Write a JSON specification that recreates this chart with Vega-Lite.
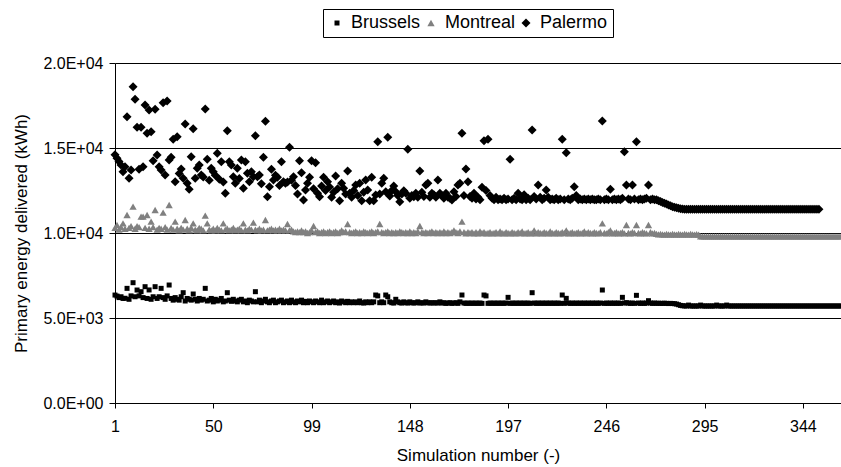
{
"$schema": "https://vega.github.io/schema/vega-lite/v6.json",
"width": 726,
"height": 340,
"autosize": {"type": "none"},
"padding": {"left": 115, "top": 63, "right": 0, "bottom": 64},
"background": "white",
"datasets": {
"bru": [{"n":1,"v":6350},{"n":2,"v":6290},{"n":3,"v":6200},{"n":4,"v":6250},{"n":5,"v":6150},{"n":6,"v":6160},{"n":7,"v":6744},{"n":8,"v":6100},{"n":9,"v":6300},{"n":10,"v":7077},
{"n":11,"v":6250},{"n":12,"v":6646},{"n":13,"v":6300},{"n":14,"v":6548},{"n":15,"v":6200},{"n":16,"v":6842},{"n":17,"v":6150},{"n":18,"v":6650},{"n":19,"v":6100},{"n":20,"v":6250},
{"n":21,"v":6842},{"n":22,"v":6150},{"n":23,"v":6250},{"n":24,"v":6744},{"n":25,"v":6200},{"n":26,"v":6100},{"n":27,"v":6300},{"n":28,"v":6940},{"n":29,"v":6150},{"n":30,"v":6050},
{"n":31,"v":6200},{"n":32,"v":6100},{"n":33,"v":6050},{"n":34,"v":6250},{"n":35,"v":6489},{"n":36,"v":6000},{"n":37,"v":6150},{"n":38,"v":6100},{"n":39,"v":6050},{"n":40,"v":6411},
{"n":41,"v":6100},{"n":42,"v":6000},{"n":43,"v":6150},{"n":44,"v":6050},{"n":45,"v":6100},{"n":46,"v":6744},{"n":47,"v":6000},{"n":48,"v":6050},{"n":49,"v":6150},{"n":50,"v":5950},
{"n":51,"v":6100},{"n":52,"v":6000},{"n":53,"v":6050},{"n":54,"v":6150},{"n":55,"v":5950},{"n":56,"v":6000},{"n":57,"v":6489},{"n":58,"v":6050},{"n":59,"v":5980},{"n":60,"v":6100},
{"n":61,"v":6000},{"n":62,"v":5950},{"n":63,"v":6050},{"n":64,"v":6100},{"n":65,"v":5950},{"n":66,"v":6000},{"n":67,"v":5900},{"n":68,"v":6050},{"n":69,"v":6000},{"n":70,"v":5950},
{"n":71,"v":6548},{"n":72,"v":5950},{"n":73,"v":6050},{"n":74,"v":5900},{"n":75,"v":6000},{"n":76,"v":6100},{"n":77,"v":5950},{"n":78,"v":5900},{"n":79,"v":6000},{"n":80,"v":6050},
{"n":81,"v":5900},{"n":82,"v":5950},{"n":83,"v":6000},{"n":84,"v":6050},{"n":85,"v":5900},{"n":86,"v":5950},{"n":87,"v":6000},{"n":88,"v":5900},{"n":89,"v":6050},{"n":90,"v":5950},
{"n":91,"v":5900},{"n":92,"v":6000},{"n":93,"v":5950},{"n":94,"v":6050},{"n":95,"v":5900},{"n":96,"v":5980},{"n":97,"v":5900},{"n":98,"v":6000},{"n":99,"v":5950},{"n":100,"v":5900},
{"n":101,"v":6000},{"n":102,"v":5950},{"n":103,"v":5900},{"n":104,"v":6050},{"n":105,"v":5900},{"n":106,"v":5950},{"n":107,"v":6000},{"n":108,"v":5900},{"n":109,"v":5950},{"n":110,"v":6000},
{"n":111,"v":5900},{"n":112,"v":5950},{"n":113,"v":5880},{"n":114,"v":6000},{"n":115,"v":5950},{"n":116,"v":5900},{"n":117,"v":5980},{"n":118,"v":5900},{"n":119,"v":5950},{"n":120,"v":5900},
{"n":121,"v":5950},{"n":122,"v":5900},{"n":123,"v":6000},{"n":124,"v":5900},{"n":125,"v":5880},{"n":126,"v":5950},{"n":127,"v":5900},{"n":128,"v":5950},{"n":129,"v":5900},{"n":130,"v":5950},
{"n":131,"v":6352},{"n":132,"v":6300},{"n":133,"v":5900},{"n":134,"v":5950},{"n":135,"v":5900},{"n":136,"v":6352},{"n":137,"v":6250},{"n":138,"v":5950},{"n":139,"v":5900},{"n":140,"v":5880},
{"n":141,"v":6100},{"n":142,"v":5950},{"n":143,"v":5900},{"n":144,"v":5880},{"n":145,"v":5950},{"n":146,"v":5900},{"n":147,"v":5880},{"n":148,"v":5950},{"n":149,"v":5900},{"n":150,"v":5880},
{"n":151,"v":5900},{"n":152,"v":5950},{"n":153,"v":5880},{"n":154,"v":5900},{"n":155,"v":5880},{"n":156,"v":5950},{"n":157,"v":5900},{"n":158,"v":5880},{"n":159,"v":5900},{"n":160,"v":5880},
{"n":161,"v":5900},{"n":162,"v":5880},{"n":163,"v":5950},{"n":164,"v":5880},{"n":165,"v":5900},{"n":166,"v":5860},{"n":167,"v":5880},{"n":168,"v":5900},{"n":169,"v":5860},{"n":170,"v":5880},
{"n":171,"v":5900},{"n":172,"v":5860},{"n":173,"v":5950},{"n":174,"v":6352},{"n":175,"v":5880},{"n":176,"v":5860},{"n":177,"v":5880},{"n":178,"v":5860},{"n":179,"v":5880},{"n":180,"v":5860},
{"n":181,"v":5880},{"n":182,"v":5860},{"n":183,"v":5880},{"n":184,"v":5860},{"n":185,"v":6352},{"n":186,"v":6300},{"n":187,"v":5860},{"n":188,"v":5880},{"n":189,"v":5860},{"n":190,"v":5880},
{"n":191,"v":5860},{"n":192,"v":5880},{"n":193,"v":5860},{"n":194,"v":5880},{"n":195,"v":5860},{"n":196,"v":5880},{"n":197,"v":6215},{"n":198,"v":5860},{"n":199,"v":5880},{"n":200,"v":5860},
{"n":201,"v":5880},{"n":202,"v":5860},{"n":203,"v":5880},{"n":204,"v":5860},{"n":205,"v":5880},{"n":206,"v":5860},{"n":207,"v":5880},{"n":208,"v":5860},{"n":209,"v":6489},{"n":210,"v":5880},
{"n":211,"v":5860},{"n":212,"v":5880},{"n":213,"v":5860},{"n":214,"v":5880},{"n":215,"v":5860},{"n":216,"v":5880},{"n":217,"v":5860},{"n":218,"v":5880},{"n":219,"v":5860},{"n":220,"v":5880},
{"n":221,"v":5860},{"n":222,"v":5880},{"n":223,"v":5860},{"n":224,"v":6352},{"n":225,"v":5860},{"n":226,"v":6156},{"n":227,"v":5880},{"n":228,"v":5860},{"n":229,"v":5880},{"n":230,"v":5860},
{"n":231,"v":5880},{"n":232,"v":5860},{"n":233,"v":5880},{"n":234,"v":5860},{"n":235,"v":5880},{"n":236,"v":5860},{"n":237,"v":5880},{"n":238,"v":5860},{"n":239,"v":5880},{"n":240,"v":5860},
{"n":241,"v":5880},{"n":242,"v":5860},{"n":243,"v":5880},{"n":244,"v":6646},{"n":245,"v":5860},{"n":246,"v":5880},{"n":247,"v":5860},{"n":248,"v":5880},{"n":249,"v":5860},{"n":250,"v":5880},
{"n":251,"v":5860},{"n":252,"v":5880},{"n":253,"v":5860},{"n":254,"v":6215},{"n":255,"v":5880},{"n":256,"v":5900},{"n":257,"v":5880},{"n":258,"v":5860},{"n":259,"v":5880},{"n":260,"v":5860},
{"n":261,"v":6333},{"n":262,"v":5880},{"n":263,"v":5860},{"n":264,"v":5880},{"n":265,"v":5860},{"n":266,"v":5880},{"n":267,"v":6019},{"n":268,"v":5880},{"n":269,"v":5860},{"n":270,"v":5880},
{"n":271,"v":5860},{"n":272,"v":5870},{"n":273,"v":5860},{"n":274,"v":5860},{"n":275,"v":5870},{"n":276,"v":5860},{"n":277,"v":5850},{"n":278,"v":5860},{"n":279,"v":5850},{"n":280,"v":5840},
{"n":281,"v":5820},{"n":282,"v":5780},{"n":283,"v":5740},{"n":284,"v":5720},{"n":285,"v":5710},{"n":286,"v":5705},{"n":287,"v":5760},{"n":288,"v":5705},{"n":289,"v":5705},{"n":290,"v":5705},
{"n":291,"v":5705},{"n":292,"v":5705},{"n":293,"v":5760},{"n":294,"v":5705},{"n":295,"v":5705},{"n":296,"v":5705},{"n":297,"v":5705},{"n":298,"v":5705},{"n":299,"v":5705},{"n":300,"v":5705},
{"n":301,"v":5760},{"n":302,"v":5705},{"n":303,"v":5705},{"n":304,"v":5705},{"n":305,"v":5705},{"n":306,"v":5760},{"n":307,"v":5705},{"n":308,"v":5705},{"n":309,"v":5705},{"n":310,"v":5705},
{"n":311,"v":5705},{"n":312,"v":5705},{"n":313,"v":5705},{"n":314,"v":5705},{"n":315,"v":5705},{"n":316,"v":5705},{"n":317,"v":5705},{"n":318,"v":5705},{"n":319,"v":5705},{"n":320,"v":5705},
{"n":321,"v":5705},{"n":322,"v":5705},{"n":323,"v":5705},{"n":324,"v":5705},{"n":325,"v":5705},{"n":326,"v":5705},{"n":327,"v":5705},{"n":328,"v":5705},{"n":329,"v":5705},{"n":330,"v":5705},
{"n":331,"v":5705},{"n":332,"v":5705},{"n":333,"v":5705},{"n":334,"v":5705},{"n":335,"v":5705},{"n":336,"v":5705},{"n":337,"v":5705},{"n":338,"v":5705},{"n":339,"v":5705},{"n":340,"v":5705},
{"n":341,"v":5705},{"n":342,"v":5705},{"n":343,"v":5705},{"n":344,"v":5705},{"n":345,"v":5705},{"n":346,"v":5705},{"n":347,"v":5705},{"n":348,"v":5705},{"n":349,"v":5705},{"n":350,"v":5705},
{"n":351,"v":5705},{"n":352,"v":5705},{"n":353,"v":5705},{"n":354,"v":5705},{"n":355,"v":5705},{"n":356,"v":5705},{"n":357,"v":5705},{"n":358,"v":5705},{"n":359,"v":5705},{"n":360,"v":5705},
{"n":361,"v":5705},{"n":362,"v":5705},{"n":363,"v":5705}],
"mon": [{"n":1,"v":10300},{"n":2,"v":10470},{"n":3,"v":10200},{"n":4,"v":10350},{"n":5,"v":10568},{"n":6,"v":10250},{"n":7,"v":11058},{"n":8,"v":10300},{"n":9,"v":10400},{"n":10,"v":11548},
{"n":11,"v":10250},{"n":12,"v":10400},{"n":13,"v":10350},{"n":14,"v":10960},{"n":15,"v":10960},{"n":16,"v":10300},{"n":17,"v":11058},{"n":18,"v":10250},{"n":19,"v":10666},{"n":20,"v":10350},
{"n":21,"v":11352},{"n":22,"v":10200},{"n":23,"v":10300},{"n":24,"v":10250},{"n":25,"v":11195},{"n":26,"v":10350},{"n":27,"v":10200},{"n":28,"v":11646},{"n":29,"v":10300},{"n":30,"v":10200},
{"n":31,"v":10666},{"n":32,"v":10250},{"n":33,"v":10150},{"n":34,"v":10300},{"n":35,"v":10200},{"n":36,"v":10764},{"n":37,"v":10250},{"n":38,"v":10150},{"n":39,"v":10300},{"n":40,"v":10568},
{"n":41,"v":10200},{"n":42,"v":10150},{"n":43,"v":10300},{"n":44,"v":10250},{"n":45,"v":10150},{"n":46,"v":11019},{"n":47,"v":10568},{"n":48,"v":10200},{"n":49,"v":10150},{"n":50,"v":10250},
{"n":51,"v":10150},{"n":52,"v":10300},{"n":53,"v":10200},{"n":54,"v":10150},{"n":55,"v":10568},{"n":56,"v":10200},{"n":57,"v":10250},{"n":58,"v":10150},{"n":59,"v":10200},{"n":60,"v":10300},
{"n":61,"v":10150},{"n":62,"v":10200},{"n":63,"v":10250},{"n":64,"v":10150},{"n":65,"v":10568},{"n":66,"v":10200},{"n":67,"v":10150},{"n":68,"v":10250},{"n":69,"v":10200},{"n":70,"v":10607},
{"n":71,"v":10200},{"n":72,"v":10150},{"n":73,"v":10250},{"n":74,"v":10150},{"n":75,"v":10200},{"n":76,"v":10764},{"n":77,"v":10150},{"n":78,"v":10200},{"n":79,"v":10250},{"n":80,"v":10150},
{"n":81,"v":10200},{"n":82,"v":10150},{"n":83,"v":10250},{"n":84,"v":10150},{"n":85,"v":10200},{"n":86,"v":10150},{"n":87,"v":10529},{"n":88,"v":10150},{"n":89,"v":10200},{"n":90,"v":10100},
{"n":91,"v":10050},{"n":92,"v":10100},{"n":93,"v":10050},{"n":94,"v":10150},{"n":95,"v":10050},{"n":96,"v":10100},{"n":97,"v":10000},{"n":98,"v":10050},{"n":99,"v":10150},{"n":100,"v":10411},
{"n":101,"v":10050},{"n":102,"v":10100},{"n":103,"v":10000},{"n":104,"v":10050},{"n":105,"v":10100},{"n":106,"v":10000},{"n":107,"v":10050},{"n":108,"v":10100},{"n":109,"v":10000},{"n":110,"v":10050},
{"n":111,"v":10100},{"n":112,"v":10000},{"n":113,"v":10050},{"n":114,"v":10150},{"n":115,"v":10050},{"n":116,"v":10100},{"n":117,"v":10529},{"n":118,"v":10050},{"n":119,"v":10000},{"n":120,"v":10050},
{"n":121,"v":10100},{"n":122,"v":10000},{"n":123,"v":10050},{"n":124,"v":10000},{"n":125,"v":10100},{"n":126,"v":10050},{"n":127,"v":10000},{"n":128,"v":10050},{"n":129,"v":10100},{"n":130,"v":10000},
{"n":131,"v":10050},{"n":132,"v":10100},{"n":133,"v":10529},{"n":134,"v":10050},{"n":135,"v":10000},{"n":136,"v":10050},{"n":137,"v":10100},{"n":138,"v":10000},{"n":139,"v":10050},{"n":140,"v":10000},
{"n":141,"v":10050},{"n":142,"v":10000},{"n":143,"v":10100},{"n":144,"v":10050},{"n":145,"v":10000},{"n":146,"v":10050},{"n":147,"v":10000},{"n":148,"v":10100},{"n":149,"v":10000},{"n":150,"v":10050},
{"n":151,"v":10000},{"n":152,"v":10100},{"n":153,"v":10411},{"n":154,"v":10050},{"n":155,"v":10000},{"n":156,"v":10050},{"n":157,"v":10000},{"n":158,"v":10050},{"n":159,"v":10100},{"n":160,"v":10000},
{"n":161,"v":10050},{"n":162,"v":10000},{"n":163,"v":10050},{"n":164,"v":10000},{"n":165,"v":10100},{"n":166,"v":10000},{"n":167,"v":10050},{"n":168,"v":10000},{"n":169,"v":10050},{"n":170,"v":10150},
{"n":171,"v":10050},{"n":172,"v":10000},{"n":173,"v":10100},{"n":174,"v":10666},{"n":175,"v":10050},{"n":176,"v":9980},{"n":177,"v":10050},{"n":178,"v":10000},{"n":179,"v":10050},{"n":180,"v":9980},
{"n":181,"v":10050},{"n":182,"v":9980},{"n":183,"v":10100},{"n":184,"v":10000},{"n":185,"v":10050},{"n":186,"v":9980},{"n":187,"v":10000},{"n":188,"v":10050},{"n":189,"v":9980},{"n":190,"v":10000},
{"n":191,"v":10050},{"n":192,"v":9980},{"n":193,"v":10100},{"n":194,"v":10000},{"n":195,"v":9980},{"n":196,"v":10050},{"n":197,"v":10000},{"n":198,"v":9980},{"n":199,"v":10050},{"n":200,"v":10000},
{"n":201,"v":9980},{"n":202,"v":10050},{"n":203,"v":10000},{"n":204,"v":10100},{"n":205,"v":9980},{"n":206,"v":10000},{"n":207,"v":10050},{"n":208,"v":9980},{"n":209,"v":10000},{"n":210,"v":10150},
{"n":211,"v":9980},{"n":212,"v":10050},{"n":213,"v":10000},{"n":214,"v":9980},{"n":215,"v":10050},{"n":216,"v":10000},{"n":217,"v":9980},{"n":218,"v":10100},{"n":219,"v":10000},{"n":220,"v":9980},
{"n":221,"v":10050},{"n":222,"v":10000},{"n":223,"v":9980},{"n":224,"v":10050},{"n":225,"v":10000},{"n":226,"v":10150},{"n":227,"v":9980},{"n":228,"v":10000},{"n":229,"v":10050},{"n":230,"v":9980},
{"n":231,"v":10000},{"n":232,"v":10050},{"n":233,"v":9980},{"n":234,"v":10000},{"n":235,"v":10100},{"n":236,"v":9980},{"n":237,"v":10050},{"n":238,"v":10000},{"n":239,"v":9980},{"n":240,"v":10050},
{"n":241,"v":10000},{"n":242,"v":9980},{"n":243,"v":10050},{"n":244,"v":10568},{"n":245,"v":10000},{"n":246,"v":9980},{"n":247,"v":10050},{"n":248,"v":10150},{"n":249,"v":9980},{"n":250,"v":10000},
{"n":251,"v":10050},{"n":252,"v":9980},{"n":253,"v":10000},{"n":254,"v":10050},{"n":255,"v":9980},{"n":256,"v":10470},{"n":257,"v":10000},{"n":258,"v":9980},{"n":259,"v":10050},{"n":260,"v":10000},
{"n":261,"v":10470},{"n":262,"v":10000},{"n":263,"v":9980},{"n":264,"v":10050},{"n":265,"v":10000},{"n":266,"v":9980},{"n":267,"v":10470},{"n":268,"v":10050},{"n":269,"v":9980},{"n":270,"v":10000},
{"n":271,"v":9950},{"n":272,"v":9920},{"n":273,"v":9940},{"n":274,"v":9920},{"n":275,"v":9900},{"n":276,"v":9940},{"n":277,"v":9920},{"n":278,"v":9900},{"n":279,"v":9940},{"n":280,"v":9920},
{"n":281,"v":9900},{"n":282,"v":9940},{"n":283,"v":9920},{"n":284,"v":9900},{"n":285,"v":9940},{"n":286,"v":9920},{"n":287,"v":9900},{"n":288,"v":9940},{"n":289,"v":9920},{"n":290,"v":9900},
{"n":291,"v":9930},{"n":292,"v":9900},{"n":293,"v":9810},{"n":294,"v":9800},{"n":295,"v":9800},{"n":296,"v":9800},{"n":297,"v":9800},{"n":298,"v":9800},{"n":299,"v":9800},{"n":300,"v":9800},
{"n":301,"v":9800},{"n":302,"v":9800},{"n":303,"v":9800},{"n":304,"v":9800},{"n":305,"v":9800},{"n":306,"v":9800},{"n":307,"v":9800},{"n":308,"v":9800},{"n":309,"v":9800},{"n":310,"v":9800},
{"n":311,"v":9800},{"n":312,"v":9800},{"n":313,"v":9800},{"n":314,"v":9800},{"n":315,"v":9800},{"n":316,"v":9800},{"n":317,"v":9800},{"n":318,"v":9800},{"n":319,"v":9800},{"n":320,"v":9800},
{"n":321,"v":9800},{"n":322,"v":9800},{"n":323,"v":9800},{"n":324,"v":9800},{"n":325,"v":9800},{"n":326,"v":9800},{"n":327,"v":9800},{"n":328,"v":9800},{"n":329,"v":9800},{"n":330,"v":9800},
{"n":331,"v":9800},{"n":332,"v":9800},{"n":333,"v":9800},{"n":334,"v":9800},{"n":335,"v":9800},{"n":336,"v":9800},{"n":337,"v":9800},{"n":338,"v":9800},{"n":339,"v":9800},{"n":340,"v":9800},
{"n":341,"v":9800},{"n":342,"v":9800},{"n":343,"v":9800},{"n":344,"v":9800},{"n":345,"v":9800},{"n":346,"v":9800},{"n":347,"v":9800},{"n":348,"v":9800},{"n":349,"v":9800},{"n":350,"v":9800},
{"n":351,"v":9800},{"n":352,"v":9800},{"n":353,"v":9800},{"n":354,"v":9800},{"n":355,"v":9800},{"n":356,"v":9800},{"n":357,"v":9800},{"n":358,"v":9800},{"n":359,"v":9800},{"n":360,"v":9800},
{"n":361,"v":9800},{"n":362,"v":9800},{"n":363,"v":9800}],
"pal": [{"n":1,"v":14600},{"n":2,"v":14400},{"n":3,"v":14200},{"n":4,"v":14000},{"n":5,"v":13600},{"n":6,"v":13900},{"n":7,"v":16843},{"n":8,"v":13215},{"n":9,"v":13705},{"n":10,"v":18608},
{"n":11,"v":17862},{"n":12,"v":16215},{"n":13,"v":13744},{"n":14,"v":16215},{"n":15,"v":13900},{"n":16,"v":17529},{"n":17,"v":15862},{"n":18,"v":17235},{"n":19,"v":15960},{"n":20,"v":14254},
{"n":21,"v":17274},{"n":22,"v":14588},{"n":23,"v":13900},{"n":24,"v":13705},{"n":25,"v":17666},{"n":26,"v":13411},{"n":27,"v":17764},{"n":28,"v":14293},{"n":29,"v":14450},{"n":30,"v":15509},
{"n":31,"v":13019},{"n":32,"v":15666},{"n":33,"v":13500},{"n":34,"v":13764},{"n":35,"v":13215},{"n":36,"v":16411},{"n":37,"v":12921},{"n":38,"v":12568},{"n":39,"v":14490},{"n":40,"v":16137},
{"n":41,"v":13215},{"n":42,"v":13803},{"n":43,"v":14000},{"n":44,"v":13411},{"n":45,"v":13300},{"n":46,"v":17294},{"n":47,"v":14333},{"n":48,"v":13100},{"n":49,"v":13803},{"n":50,"v":13607},
{"n":51,"v":13400},{"n":52,"v":14686},{"n":53,"v":13156},{"n":54,"v":14195},{"n":55,"v":13000},{"n":56,"v":12332},{"n":57,"v":16019},{"n":58,"v":14195},{"n":59,"v":14000},{"n":60,"v":13313},
{"n":61,"v":12921},{"n":62,"v":13803},{"n":63,"v":13200},{"n":64,"v":14293},{"n":65,"v":12627},{"n":66,"v":14195},{"n":67,"v":13509},{"n":68,"v":13019},{"n":69,"v":13600},{"n":70,"v":13313},
{"n":71,"v":15725},{"n":72,"v":13313},{"n":73,"v":13411},{"n":74,"v":12900},{"n":75,"v":14450},{"n":76,"v":16568},{"n":77,"v":12136},{"n":78,"v":12725},{"n":79,"v":13744},{"n":80,"v":13117},
{"n":81,"v":13400},{"n":82,"v":13274},{"n":83,"v":12800},{"n":84,"v":14195},{"n":85,"v":13019},{"n":86,"v":12921},{"n":87,"v":13000},{"n":88,"v":15039},{"n":89,"v":13100},{"n":90,"v":13313},
{"n":91,"v":12800},{"n":92,"v":12293},{"n":93,"v":14254},{"n":94,"v":13548},{"n":95,"v":11940},{"n":96,"v":12529},{"n":97,"v":12921},{"n":98,"v":13274},{"n":99,"v":14254},{"n":100,"v":12600},
{"n":101,"v":14137},{"n":102,"v":12332},{"n":103,"v":12136},{"n":104,"v":12764},{"n":105,"v":13274},{"n":106,"v":12500},{"n":107,"v":13019},{"n":108,"v":12700},{"n":109,"v":12097},{"n":110,"v":12400},
{"n":111,"v":13352},{"n":112,"v":12600},{"n":113,"v":11901},{"n":114,"v":12921},{"n":115,"v":12627},{"n":116,"v":12300},{"n":117,"v":13646},{"n":118,"v":12332},{"n":119,"v":12097},{"n":120,"v":12500},
{"n":121,"v":12823},{"n":122,"v":12200},{"n":123,"v":12921},{"n":124,"v":11901},{"n":125,"v":12400},{"n":126,"v":13117},{"n":127,"v":12529},{"n":128,"v":11901},{"n":129,"v":13274},{"n":130,"v":11901},
{"n":131,"v":12234},{"n":132,"v":15372},{"n":133,"v":12300},{"n":134,"v":12921},{"n":135,"v":13215},{"n":136,"v":12431},{"n":137,"v":15627},{"n":138,"v":12175},{"n":139,"v":12500},{"n":140,"v":12764},
{"n":141,"v":12431},{"n":142,"v":12200},{"n":143,"v":11842},{"n":144,"v":12300},{"n":145,"v":12490},{"n":146,"v":12332},{"n":147,"v":14921},{"n":148,"v":12038},{"n":149,"v":12200},{"n":150,"v":12136},
{"n":151,"v":12332},{"n":152,"v":12100},{"n":153,"v":13646},{"n":154,"v":12400},{"n":155,"v":12150},{"n":156,"v":12823},{"n":157,"v":12921},{"n":158,"v":12100},{"n":159,"v":12332},{"n":160,"v":12250},
{"n":161,"v":12100},{"n":162,"v":13117},{"n":163,"v":12332},{"n":164,"v":12200},{"n":165,"v":12038},{"n":166,"v":12332},{"n":167,"v":12100},{"n":168,"v":12050},{"n":169,"v":11940},{"n":170,"v":12431},
{"n":171,"v":12150},{"n":172,"v":12823},{"n":173,"v":12921},{"n":174,"v":15862},{"n":175,"v":12200},{"n":176,"v":13764},{"n":177,"v":13019},{"n":178,"v":12150},{"n":179,"v":12050},{"n":180,"v":12332},
{"n":181,"v":12000},{"n":182,"v":12100},{"n":183,"v":11950},{"n":184,"v":12686},{"n":185,"v":15431},{"n":186,"v":12500},{"n":187,"v":15509},{"n":188,"v":12200},{"n":189,"v":12050},{"n":190,"v":11950},
{"n":191,"v":12100},{"n":192,"v":11950},{"n":193,"v":12000},{"n":194,"v":11950},{"n":195,"v":12050},{"n":196,"v":11950},{"n":197,"v":12000},{"n":198,"v":14333},{"n":199,"v":11950},{"n":200,"v":12050},
{"n":201,"v":11950},{"n":202,"v":12332},{"n":203,"v":12000},{"n":204,"v":11950},{"n":205,"v":12250},{"n":206,"v":11950},{"n":207,"v":12050},{"n":208,"v":11950},{"n":209,"v":16058},{"n":210,"v":12150},
{"n":211,"v":12000},{"n":212,"v":12823},{"n":213,"v":12100},{"n":214,"v":11950},{"n":215,"v":12050},{"n":216,"v":12529},{"n":217,"v":12100},{"n":218,"v":11950},{"n":219,"v":12000},{"n":220,"v":11950},
{"n":221,"v":12050},{"n":222,"v":11950},{"n":223,"v":12000},{"n":224,"v":15509},{"n":225,"v":11950},{"n":226,"v":14725},{"n":227,"v":12000},{"n":228,"v":11950},{"n":229,"v":12050},{"n":230,"v":12725},
{"n":231,"v":12200},{"n":232,"v":11950},{"n":233,"v":12000},{"n":234,"v":11950},{"n":235,"v":12000},{"n":236,"v":11950},{"n":237,"v":12000},{"n":238,"v":11950},{"n":239,"v":12000},{"n":240,"v":11950},
{"n":241,"v":11950},{"n":242,"v":12000},{"n":243,"v":11950},{"n":244,"v":16588},{"n":245,"v":11950},{"n":246,"v":12000},{"n":247,"v":11950},{"n":248,"v":12568},{"n":249,"v":11950},{"n":250,"v":12000},
{"n":251,"v":11950},{"n":252,"v":12000},{"n":253,"v":11950},{"n":254,"v":12050},{"n":255,"v":14784},{"n":256,"v":12823},{"n":257,"v":12000},{"n":258,"v":11950},{"n":259,"v":12823},{"n":260,"v":12000},
{"n":261,"v":15372},{"n":262,"v":11950},{"n":263,"v":12000},{"n":264,"v":11950},{"n":265,"v":12000},{"n":266,"v":12050},{"n":267,"v":12823},{"n":268,"v":11950},{"n":269,"v":12000},{"n":270,"v":11950},
{"n":271,"v":11950},{"n":272,"v":11900},{"n":273,"v":11850},{"n":274,"v":11800},{"n":275,"v":11750},{"n":276,"v":11700},{"n":277,"v":11650},{"n":278,"v":11600},{"n":279,"v":11550},{"n":280,"v":11520},
{"n":281,"v":11480},{"n":282,"v":11450},{"n":283,"v":11430},{"n":284,"v":11410},{"n":285,"v":11400},{"n":286,"v":11400},{"n":287,"v":11390},{"n":288,"v":11390},{"n":289,"v":11390},{"n":290,"v":11390},
{"n":291,"v":11390},{"n":292,"v":11390},{"n":293,"v":11390},{"n":294,"v":11390},{"n":295,"v":11390},{"n":296,"v":11390},{"n":297,"v":11390},{"n":298,"v":11390},{"n":299,"v":11390},{"n":300,"v":11390},
{"n":301,"v":11390},{"n":302,"v":11390},{"n":303,"v":11390},{"n":304,"v":11390},{"n":305,"v":11390},{"n":306,"v":11390},{"n":307,"v":11390},{"n":308,"v":11390},{"n":309,"v":11390},{"n":310,"v":11390},
{"n":311,"v":11390},{"n":312,"v":11390},{"n":313,"v":11390},{"n":314,"v":11390},{"n":315,"v":11390},{"n":316,"v":11390},{"n":317,"v":11390},{"n":318,"v":11390},{"n":319,"v":11390},{"n":320,"v":11390},
{"n":321,"v":11390},{"n":322,"v":11390},{"n":323,"v":11390},{"n":324,"v":11390},{"n":325,"v":11390},{"n":326,"v":11390},{"n":327,"v":11390},{"n":328,"v":11390},{"n":329,"v":11390},{"n":330,"v":11390},
{"n":331,"v":11390},{"n":332,"v":11390},{"n":333,"v":11390},{"n":334,"v":11390},{"n":335,"v":11390},{"n":336,"v":11390},{"n":337,"v":11390},{"n":338,"v":11390},{"n":339,"v":11390},{"n":340,"v":11390},
{"n":341,"v":11390},{"n":342,"v":11390},{"n":343,"v":11390},{"n":344,"v":11390},{"n":345,"v":11390},{"n":346,"v":11390},{"n":347,"v":11390},{"n":348,"v":11390},{"n":349,"v":11390},{"n":350,"v":11390},
{"n":351,"v":11390},{"n":352,"v":11390}]
},
"encoding": {
"x": {"field": "n", "type": "quantitative", "scale": {"domain": [1, 363], "nice": false, "zero": false},
 "axis": {"values": [1, 50, 99, 148, 197, 246, 295, 344], "title": "Simulation number (-)", "grid": false, "tickSize": 5, "labelPadding": 10, "titlePadding": 13, "labelFlush": false}},
"y": {"field": "v", "type": "quantitative", "scale": {"domain": [0, 20000], "nice": false},
 "axis": {"values": [0, 5000, 10000, 15000, 20000], "labelExpr": "replace(format(datum.value, '.1e'), 'e+', 'E+0')", "title": "Primary energy delivered (kWh)", "grid": true, "tickSize": 6, "labelPadding": 6, "titlePadding": 12}}
},
"layer": [
{"data": {"name": "bru"}, "mark": {"type": "point", "filled": true, "opacity": 1},
 "encoding": {
  "color": {"datum": "Brussels", "type": "nominal", "scale": {"domain": ["Brussels", "Montreal", "Palermo"], "range": ["#000000", "#808080", "#000000"]}, "legend": {"title": null}},
  "shape": {"datum": "Brussels", "type": "nominal", "scale": {"domain": ["Brussels", "Montreal", "Palermo"], "range": ["square", "triangle-up", "diamond"]}, "legend": {"title": null}},
  "size": {"datum": "Brussels", "type": "nominal", "scale": {"domain": ["Brussels", "Montreal", "Palermo"], "range": [25, 81, 90]}, "legend": {"title": null}}
 }},
{"data": {"name": "mon"}, "mark": {"type": "point", "filled": true, "opacity": 1},
 "encoding": {
  "color": {"datum": "Montreal", "type": "nominal", "scale": {"domain": ["Brussels", "Montreal", "Palermo"], "range": ["#000000", "#808080", "#000000"]}, "legend": {"title": null}},
  "shape": {"datum": "Montreal", "type": "nominal", "scale": {"domain": ["Brussels", "Montreal", "Palermo"], "range": ["square", "triangle-up", "diamond"]}, "legend": {"title": null}},
  "size": {"datum": "Montreal", "type": "nominal", "scale": {"domain": ["Brussels", "Montreal", "Palermo"], "range": [25, 81, 90]}, "legend": {"title": null}}
 }},
{"data": {"name": "pal"}, "mark": {"type": "point", "filled": true, "opacity": 1},
 "encoding": {
  "color": {"datum": "Palermo", "type": "nominal", "scale": {"domain": ["Brussels", "Montreal", "Palermo"], "range": ["#000000", "#808080", "#000000"]}, "legend": {"title": null}},
  "shape": {"datum": "Palermo", "type": "nominal", "scale": {"domain": ["Brussels", "Montreal", "Palermo"], "range": ["square", "triangle-up", "diamond"]}, "legend": {"title": null}},
  "size": {"datum": "Palermo", "type": "nominal", "scale": {"domain": ["Brussels", "Montreal", "Palermo"], "range": [25, 81, 90]}, "legend": {"title": null}}
 }}
],
"config": {
 "font": "Liberation Sans",
 "view": {"stroke": null},
 "axis": {"labelFont": "Liberation Sans", "labelFontSize": 16, "labelColor": "#000000", "titleFont": "Liberation Sans", "titleFontSize": 17, "titleFontWeight": "normal", "titleColor": "#000000", "domainColor": "#000000", "tickColor": "#000000", "gridColor": "#000000", "gridOpacity": 1, "domainWidth": 1, "tickWidth": 1, "gridWidth": 1},
 "legend": {"orient": "none", "legendX": 208, "legendY": -54, "direction": "horizontal", "strokeColor": "#000000", "fillColor": "#ffffff", "padding": 5, "labelFont": "Liberation Sans", "labelFontSize": 18, "labelColor": "#000000", "columnPadding": 1, "labelOffset": 5, "symbolStrokeWidth": 0, "symbolOpacity": 1}
}
}
